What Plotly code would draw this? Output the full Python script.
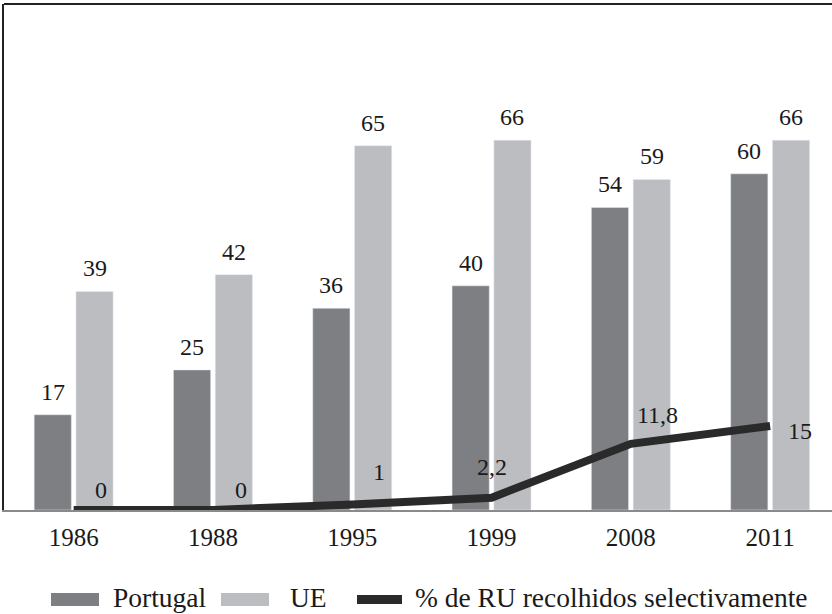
import plotly.graph_objects as go

years = ["1986", "1988", "1995", "1999", "2008", "2011"]
portugal = [17, 25, 36, 40, 54, 60]
ue = [39, 42, 65, 66, 59, 66]
ru_pct = [0, 0, 1, 2.2, 11.8, 15]
ru_labels = ["0", "0", "1", "2,2", "11,8", "15"]
series_names = ["Portugal", "UE", "% de RU recolhidos selectivamente"]

C_PT = "#7e7f83"
C_UE = "#bcbdc0"
C_LINE = "#2a2a2a"
FONT = "Liberation Serif, Times New Roman, serif"
TXT = "#1a1a1a"

W, H = 832, 614
ML, MR, MT, MB = 4, 0, 4, 104
PW, PH = W - ML - MR, H - MT - MB


def px_x(p):
    return (p - ML) / PW


def px_y(p):
    return (H - MB - p) / PH


xs = list(range(len(years)))
fig = go.Figure()
fig.add_trace(go.Bar(x=xs, y=portugal, name=series_names[0], marker_color=C_PT,
                     showlegend=False))
fig.add_trace(go.Bar(x=xs, y=ue, name=series_names[1], marker_color=C_UE,
                     showlegend=False))
fig.add_trace(go.Scatter(x=xs, y=ru_pct, mode="lines", name=series_names[2],
                         line=dict(color=C_LINE, width=8), showlegend=False))

ann = []
half = 0.15
for i in xs:
    ann.append(dict(x=i - half, y=portugal[i], text=str(portugal[i]), showarrow=False,
                    yshift=23, yanchor="middle"))
    ann.append(dict(x=i + half, y=ue[i], text=str(ue[i]), showarrow=False,
                    yshift=23, yanchor="middle"))
line_dx = [27, 28, 27, 0, 27, 30]
line_dy = [20, 20, 32, 31, 29, -5]
for i in xs:
    ann.append(dict(x=i, y=ru_pct[i], text=ru_labels[i], showarrow=False,
                    xshift=line_dx[i], yshift=line_dy[i], yanchor="middle"))
for a in ann:
    a["font"] = dict(family=FONT, size=24, color=TXT)

# legend (drawn as swatches + labels below the plot)
leg_y = 599.5
swatches = [(51, 99, 13, C_PT), (221, 269, 13, C_UE), (357, 402, 9, C_LINE)]
text_x = [111, 288, 413]
shapes = [dict(type="line", xref="paper", yref="paper", x0=0, x1=1, y0=1, y1=1,
               line=dict(color="#222222", width=2))]
for (x0, x1, h, col), tx, name in zip(swatches, text_x, series_names):
    shapes.append(dict(type="rect", xref="paper", yref="paper",
                       x0=px_x(x0), x1=px_x(x1),
                       y0=px_y(leg_y - h / 2), y1=px_y(leg_y + h / 2),
                       fillcolor=col, line=dict(width=0)))
    ann.append(dict(xref="paper", yref="paper", x=px_x(tx), y=px_y(598),
                    xanchor="left", yanchor="middle", text=name, showarrow=False,
                    font=dict(family=FONT, size=27.5, color=TXT)))

fig.update_layout(
    width=W, height=H,
    margin=dict(l=ML, r=MR, t=MT, b=MB, autoexpand=False),
    paper_bgcolor="white", plot_bgcolor="white",
    barmode="group", bargap=0.4, bargroupgap=0.11,
    font=dict(family=FONT, size=24, color=TXT),
    annotations=ann,
    showlegend=False,
    shapes=shapes,
)
fig.update_xaxes(range=[-0.5, -0.5 + PW / 139.3], tickvals=xs, ticktext=years,
                 showline=True, linecolor="#8a8a8a", linewidth=2, showgrid=False,
                 zeroline=False, ticks="outside", ticklen=4, tickcolor="rgba(0,0,0,0)",
                 tickfont=dict(family=FONT, size=25, color=TXT), automargin=False)
fig.update_yaxes(range=[0, 90.3], showline=True, linecolor="#222222", linewidth=2,
                 showgrid=False, zeroline=False, showticklabels=False, ticks="",
                 automargin=False)
fig.write_html("out.html", config={"displayModeBar": False},
               post_script="document.body.style.margin='0';document.body.style.overflow='hidden';")
